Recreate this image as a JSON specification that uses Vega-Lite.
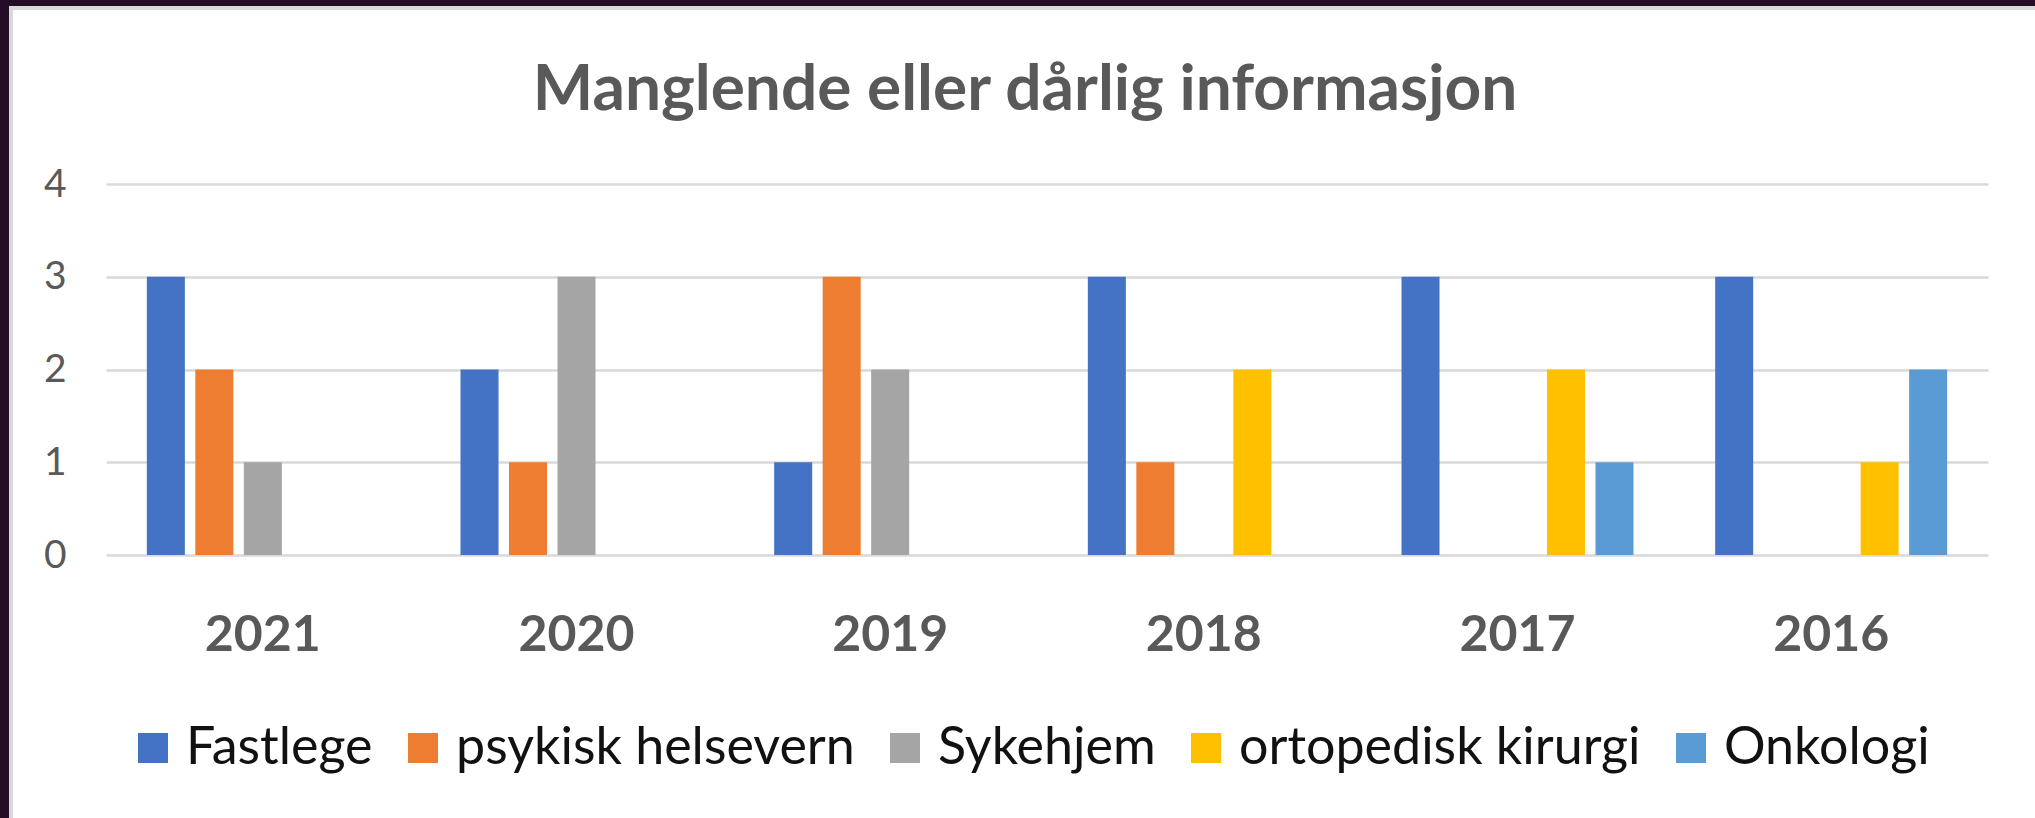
{
  "$schema": "https://vega.github.io/schema/vega-lite/v6.json",
  "background": "#ffffff",
  "padding": 0,
  "config": {
    "concat": {"spacing": 0},
    "view": {"stroke": null},
    "font": "Lato"
  },
  "spacing": 0,
  "vconcat": [
    {"data": {"values": []}, "mark": "rect", "width": 2035, "height": 6, "view": {"fill": "#250d27", "stroke": null}},
    {
      "spacing": 0,
      "hconcat": [
        {"data": {"values": []}, "mark": "rect", "width": 9, "height": 812, "view": {"fill": "#250d27", "stroke": null}},
        {
          "spacing": 0,
          "vconcat": [
            {"data": {"values": []}, "mark": "rect", "width": 2026, "height": 4, "view": {"fill": "#d9d9d9", "stroke": null}},
            {
              "spacing": 0,
              "hconcat": [
                {"data": {"values": []}, "mark": "rect", "width": 4, "height": 808, "view": {"fill": "#d9d9d9", "stroke": null}},
                {"data": {"values": []}, "mark": "rect", "width": 30, "height": 10, "view": {"fill": null, "stroke": null}},
                {
                  "spacing": 0,
                  "vconcat": [
                    {"data": {"values": []}, "mark": "rect", "width": 10, "height": 49, "view": {"fill": null, "stroke": null}},
                    {
                      "title": {
                        "text": "Manglende eller dårlig informasjon",
                        "font": "Lato",
                        "fontSize": 64,
                        "fontWeight": "bold",
                        "color": "#595959",
                        "anchor": "middle",
                        "dx": -22,
                        "offset": 42
                      },
                      "width": 1882,
                      "height": 371,
                      "data": {
                        "values": [
                          {"year": "2021", "kategori": "Fastlege", "antall": 3},
                          {"year": "2021", "kategori": "psykisk helsevern", "antall": 2},
                          {"year": "2021", "kategori": "Sykehjem", "antall": 1},
                          {"year": "2020", "kategori": "Fastlege", "antall": 2},
                          {"year": "2020", "kategori": "psykisk helsevern", "antall": 1},
                          {"year": "2020", "kategori": "Sykehjem", "antall": 3},
                          {"year": "2019", "kategori": "Fastlege", "antall": 1},
                          {"year": "2019", "kategori": "psykisk helsevern", "antall": 3},
                          {"year": "2019", "kategori": "Sykehjem", "antall": 2},
                          {"year": "2018", "kategori": "Fastlege", "antall": 3},
                          {"year": "2018", "kategori": "psykisk helsevern", "antall": 1},
                          {"year": "2018", "kategori": "ortopedisk kirurgi", "antall": 2},
                          {"year": "2017", "kategori": "Fastlege", "antall": 3},
                          {"year": "2017", "kategori": "ortopedisk kirurgi", "antall": 2},
                          {"year": "2017", "kategori": "Onkologi", "antall": 1},
                          {"year": "2016", "kategori": "Fastlege", "antall": 3},
                          {"year": "2016", "kategori": "ortopedisk kirurgi", "antall": 1},
                          {"year": "2016", "kategori": "Onkologi", "antall": 2}
                        ]
                      },
                      "mark": {"type": "bar"},
                      "encoding": {
                        "x": {
                          "field": "year",
                          "type": "nominal",
                          "sort": ["2021", "2020", "2019", "2018", "2017", "2016"],
                          "scale": {"paddingInner": 0.227, "paddingOuter": 0.1135},
                          "axis": {
                            "title": null,
                            "domain": false,
                            "ticks": false,
                            "grid": false,
                            "labelAngle": 0,
                            "labelFont": "Lato",
                            "labelFontSize": 50,
                            "labelFontWeight": "bold",
                            "labelColor": "#595959",
                            "labelPadding": 55
                          }
                        },
                        "xOffset": {
                          "field": "kategori",
                          "type": "nominal",
                          "scale": {
                            "domain": ["Fastlege", "psykisk helsevern", "Sykehjem", "ortopedisk kirurgi", "Onkologi"],
                            "paddingInner": 0.216,
                            "paddingOuter": 0.108
                          }
                        },
                        "y": {
                          "field": "antall",
                          "type": "quantitative",
                          "scale": {"domain": [0, 4], "nice": false},
                          "axis": {
                            "title": null,
                            "values": [0, 1, 2, 3, 4],
                            "domain": false,
                            "ticks": false,
                            "grid": true,
                            "gridColor": "#d9d9d9",
                            "gridWidth": 2.5,
                            "labelFont": "Lato",
                            "labelFontSize": 39,
                            "labelColor": "#595959",
                            "labelPadding": 40
                          }
                        },
                        "color": {
                          "field": "kategori",
                          "type": "nominal",
                          "scale": {
                            "domain": ["Fastlege", "psykisk helsevern", "Sykehjem", "ortopedisk kirurgi", "Onkologi"],
                            "range": ["#4472C4", "#ED7D31", "#A5A5A5", "#FFC000", "#5B9BD5"]
                          },
                          "legend": {
                            "title": null,
                            "orient": "none",
                            "direction": "horizontal",
                            "legendX": 127,
                            "legendY": 722,
                            "symbolType": "square",
                            "symbolSize": 900,
                            "symbolStrokeWidth": 0,
                            "labelFont": "Lato",
                            "labelFontSize": 52,
                            "labelColor": "#111111",
                            "labelOffset": 7,
                            "columnPadding": 24,
                            "labelLimit": 1000
                          }
                        }
                      }
                    }
                  ]
                }
              ]
            }
          ]
        }
      ]
    }
  ]
}
